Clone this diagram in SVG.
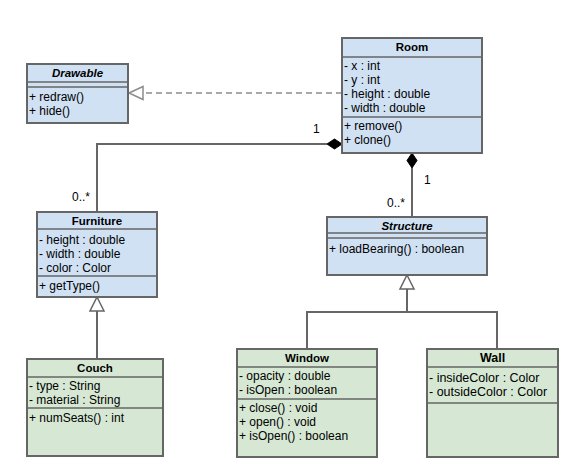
<svg xmlns="http://www.w3.org/2000/svg" width="579" height="466" viewBox="0 0 579 466">
<style>
.bg{fill:#ffffff}
.blue{fill:#d0e1f4;stroke:#666666;stroke-width:2}
.green{fill:#d6e8d4;stroke:#666666;stroke-width:2}
.div{stroke:#666666;stroke-width:1.5;fill:none}
.t{font-family:"Liberation Sans",Arial,sans-serif;font-size:12px;fill:#000}
.h{font-family:"Liberation Sans",Arial,sans-serif;font-size:11.5px;font-weight:bold;fill:#000;text-anchor:middle}
.hi{font-style:italic}
.ln{stroke:#666666;stroke-width:2;fill:none}
.dash{stroke:#8c8c8c;stroke-width:1.5;fill:none;stroke-dasharray:6,4}
.tri{fill:#ffffff;stroke:#666666;stroke-width:1.5}
.dia{fill:#000000;stroke:#000000;stroke-width:1}
</style>
<rect class="bg" x="0" y="0" width="579" height="466"/>
<g id="connectors">
  <path class="dash" d="M342,93 H143"/>
  <path class="tri" d="M129,93 L143,86.5 L143,99.5 Z" style="stroke:#8c8c8c"/>
  <path class="ln" d="M327,144 H97 V212"/>
  <path class="dia" d="M342,144 L334.5,139 L327,144 L334.5,149 Z"/>
  <text class="t" x="313" y="133">1</text>
  <text class="t" x="72" y="201">0..*</text>
  <path class="ln" d="M412,168 V217"/>
  <path class="dia" d="M412,153 L407,160.5 L412,168 L417,160.5 Z"/>
  <text class="t" x="424" y="184">1</text>
  <text class="t" x="387" y="207">0..*</text>
  <path class="ln" d="M97,311 V359"/>
  <path class="tri" d="M97,297 L104,311 L90,311 Z"/>
  <path class="ln" d="M407,289 V312 M307,349 V312 H497 V349"/>
  <path class="tri" d="M407,275 L414,289 L400,289 Z"/>
</g>
<g id="drawable">
  <rect class="blue" x="27" y="64" width="101" height="59"/>
  <path class="div" d="M27,82 H128 M27,87 H128"/>
  <text class="h hi" x="77.5" y="77">Drawable</text>
  <text class="t" x="29" y="101">+ redraw()</text>
  <text class="t" x="29" y="115">+ hide()</text>
</g>
<g id="room">
  <rect class="blue" x="342" y="38" width="140" height="115"/>
  <path class="div" d="M342,57 H482 M342,117 H482"/>
  <text class="h" x="412" y="51">Room</text>
  <text class="t" x="344" y="70">- x : int</text>
  <text class="t" x="344" y="84">- y : int</text>
  <text class="t" x="344" y="98">- height : double</text>
  <text class="t" x="344" y="112">- width : double</text>
  <text class="t" x="344" y="130">+ remove()</text>
  <text class="t" x="344" y="144">+ clone()</text>
</g>
<g id="furniture">
  <rect class="blue" x="37" y="212" width="120" height="85"/>
  <path class="div" d="M37,229 H157 M37,276 H157"/>
  <text class="h" x="97" y="225">Furniture</text>
  <text class="t" x="39" y="244">- height : double</text>
  <text class="t" x="39" y="258">- width : double</text>
  <text class="t" x="39" y="272">- color : Color</text>
  <text class="t" x="39" y="290">+ getType()</text>
</g>
<g id="structure">
  <rect class="blue" x="327" y="217" width="160" height="58"/>
  <path class="div" d="M327,233 H487 M327,238 H487"/>
  <text class="h hi" x="407" y="230">Structure</text>
  <text class="t" x="329" y="253">+ loadBearing() : boolean</text>
</g>
<g id="couch">
  <rect class="green" x="27" y="359" width="136" height="97"/>
  <path class="div" d="M27,377 H163 M27,408 H163"/>
  <text class="h" x="95" y="372">Couch</text>
  <text class="t" x="29" y="390">- type : String</text>
  <text class="t" x="29" y="404">- material : String</text>
  <text class="t" x="29" y="422">+ numSeats() : int</text>
</g>
<g id="window">
  <rect class="green" x="237" y="349" width="140" height="108"/>
  <path class="div" d="M237,367 H377 M237,399 H377"/>
  <text class="h" x="307" y="362">Window</text>
  <text class="t" x="239" y="380">- opacity : double</text>
  <text class="t" x="239" y="394">- isOpen : boolean</text>
  <text class="t" x="239" y="412">+ close() : void</text>
  <text class="t" x="239" y="426">+ open() : void</text>
  <text class="t" x="239" y="440">+ isOpen() : boolean</text>
</g>
<g id="wall">
  <rect class="green" x="427" y="349" width="131" height="108"/>
  <path class="div" d="M427,367 H558 M427,403 H558"/>
  <text class="h" x="492.5" y="362" style="font-size:12.5px">Wall</text>
  <text class="t" x="429" y="382" style="font-size:12.5px">- insideColor : Color</text>
  <text class="t" x="429" y="396" style="font-size:12.5px">- outsideColor : Color</text>
</g>
</svg>
